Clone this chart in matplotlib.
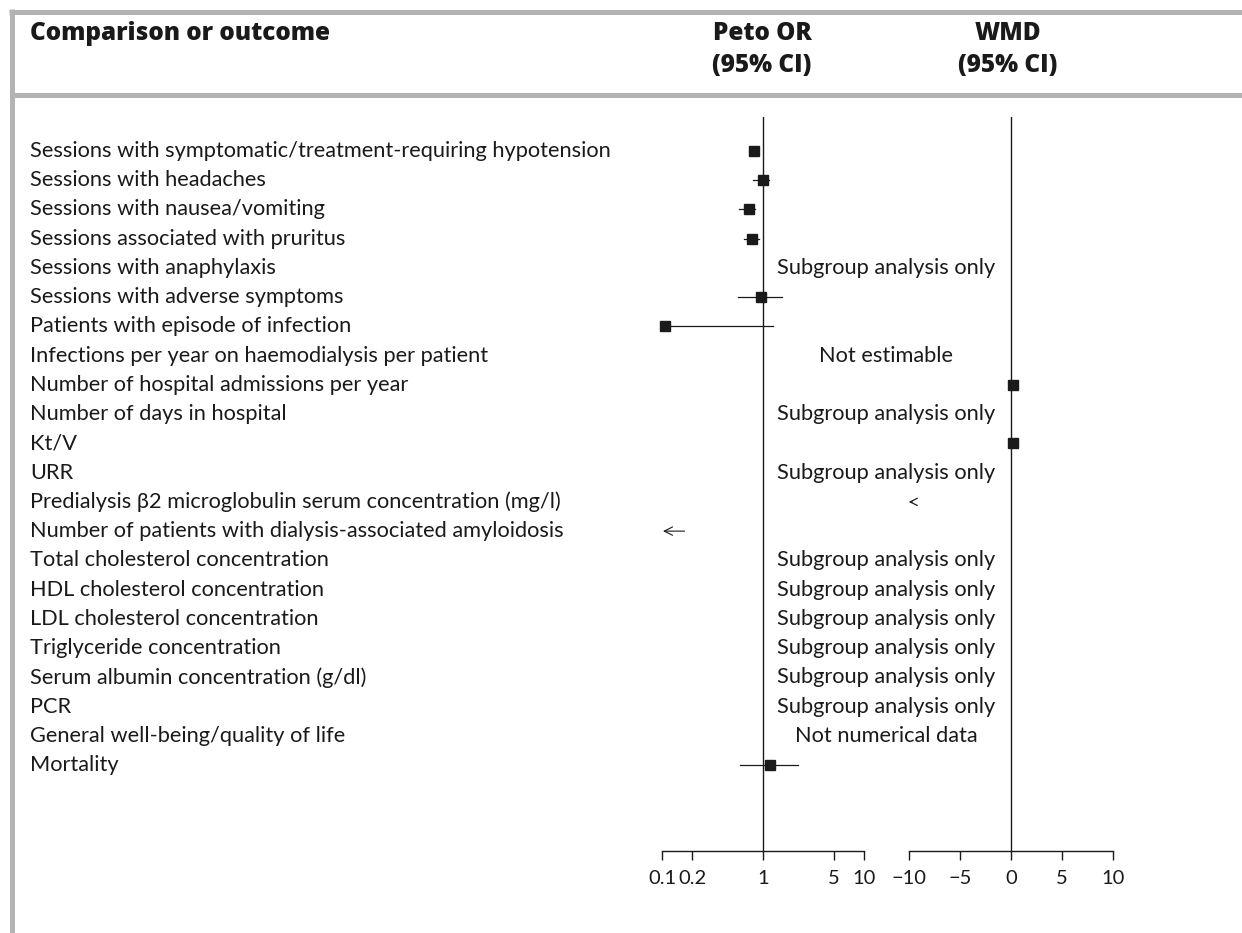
import numpy as np
import matplotlib
matplotlib.use("Agg")
import matplotlib.pyplot as plt
from matplotlib.lines import Line2D
from matplotlib.transforms import blended_transform_factory

plt.rcParams['font.family'] = ['Lato', 'DejaVu Sans']
plt.rcParams['axes.unicode_minus'] = True

labels = [
    "Sessions with symptomatic/treatment-requiring hypotension",
    "Sessions with headaches",
    "Sessions with nausea/vomiting",
    "Sessions associated with pruritus",
    "Sessions with anaphylaxis",
    "Sessions with adverse symptoms",
    "Patients with episode of infection",
    "Infections per year on haemodialysis per patient",
    "Number of hospital admissions per year",
    "Number of days in hospital",
    "Kt/V",
    "URR",
    "Predialysis β2 microglobulin serum concentration (mg/l)",
    "Number of patients with dialysis-associated amyloidosis",
    "Total cholesterol concentration",
    "HDL cholesterol concentration",
    "LDL cholesterol concentration",
    "Triglyceride concentration",
    "Serum albumin concentration (g/dl)",
    "PCR",
    "General well-being/quality of life",
    "Mortality",
]
nan = np.nan
or_est = [0.81, 1.00, 0.72, 0.78, nan, 0.96, 0.107, nan, nan, nan, nan, nan,
          nan, nan, nan, nan, nan, nan, nan, nan, nan, 1.18]
or_lo = [0.72, 0.80, 0.58, 0.65, nan, 0.57, 0.10, nan, nan, nan, nan, nan,
         nan, nan, nan, nan, nan, nan, nan, nan, nan, 0.59]
or_hi = [0.90, 1.14, 0.84, 0.91, nan, 1.53, 1.25, nan, nan, nan, nan, nan,
         nan, nan, nan, nan, nan, nan, nan, nan, nan, 2.22]
wmd_est = [nan, nan, nan, nan, nan, nan, nan, nan, 0.2, nan, 0.2, nan,
           nan, nan, nan, nan, nan, nan, nan, nan, nan, nan]
notes = ["", "", "", "", "Subgroup analysis only", "", "", "Not estimable",
         "", "Subgroup analysis only", "", "Subgroup analysis only", "", "",
         "Subgroup analysis only", "Subgroup analysis only", "Subgroup analysis only",
         "Subgroup analysis only", "Subgroup analysis only", "Subgroup analysis only",
         "Not numerical data", ""]
or_arrow_rows = [14]    # estimate off scale (left) on Peto OR panel
wmd_arrow_rows = [13]   # estimate off scale (left) on WMD panel

or_ticks = [0.1, 0.2, 1, 5, 10]
or_ticklabels = ["0.1", "0.2", "1", "5", "10"]
wmd_ticks = [-10, -5, 0, 5, 10]
wmd_ticklabels = ["\u221210", "\u22125", "0", "5", "10"]

W, H = 1242, 933
fig = plt.figure(figsize=(W / 100, H / 100), dpi=100)
TXT = "#1a1a1a"
GRAY = "#b3b3b3"
FS = 15.7
HFS = 17.5

def fx(px):
    return px / W

def fy(py):
    return 1 - py / H

top_px, bot_px = 117, 851
ax1 = fig.add_axes([fx(662), fy(bot_px), fx(864 - 662), (bot_px - top_px) / H])
ax2 = fig.add_axes([fx(909), fy(bot_px), fx(1113 - 909), (bot_px - top_px) / H])

n = len(labels)
rows = np.arange(1, n + 1)
ylim = (24.94, -0.163)

for ax in (ax1, ax2):
    ax.set_ylim(*ylim)
    ax.set_facecolor("none")
    for s in ("top", "left", "right"):
        ax.spines[s].set_visible(False)
    ax.spines["bottom"].set_linewidth(1.0)
    ax.spines["bottom"].set_color(TXT)
    ax.set_yticks([])
    ax.tick_params(axis="x", direction="out", length=6.5, width=1.0,
                   colors=TXT, labelsize=14.5, pad=7)

ax1.set_xscale("log")
ax1.set_xlim(0.1, 10)
ax1.set_xticks(or_ticks)
ax1.set_xticklabels(or_ticklabels)
ax1.xaxis.set_minor_locator(matplotlib.ticker.NullLocator())
ax2.set_xlim(-10, 10)
ax2.set_xticks(wmd_ticks)
ax2.set_xticklabels(wmd_ticklabels)

ax1.axvline(1, color=TXT, lw=1.0)
ax2.axvline(0, color=TXT, lw=1.0)

for r, e, lo, hi in zip(rows, or_est, or_lo, or_hi):
    if np.isnan(e):
        continue
    ax1.plot([lo, hi], [r, r], color=TXT, lw=0.9, clip_on=False)
    ax1.plot([e], [r], marker="s", ms=7, color=TXT, mec=TXT, clip_on=False)

for r, e in zip(rows, wmd_est):
    if np.isnan(e):
        continue
    ax2.plot([e], [r], marker="s", ms=7, color=TXT, mec=TXT, clip_on=False)

for r in or_arrow_rows:
    ax1.annotate("", xy=(0.096, r), xytext=(0.178, r),
                 arrowprops=dict(arrowstyle="->", color=TXT, lw=0.8,
                                 mutation_scale=15),
                 annotation_clip=False)
for r in wmd_arrow_rows:
    ax2.annotate("", xy=(-10.3, r), xytext=(-9.4, r),
                 arrowprops=dict(arrowstyle="->", color=TXT, lw=0.9,
                                 mutation_scale=13),
                 annotation_clip=False)

tr = blended_transform_factory(fig.transFigure, ax1.transData)
for r, lab, note in zip(rows, labels, notes):
    fig.text(fx(30), r, lab, transform=tr, ha="left", va="center",
             fontsize=FS, color=TXT)
    if note:
        fig.text(fx(886), r, note, transform=tr, ha="center", va="center",
                 fontsize=FS, color=TXT)

# Header
hkw = dict(fontsize=HFS, fontweight="heavy", color=TXT, va="center",
           family=["Open Sans", "DejaVu Sans"])
fig.text(fx(30), fy(33), "Comparison or outcome", ha="left", **hkw)
fig.text(fx(762), fy(33), "Peto OR", ha="center", **hkw)
fig.text(fx(762), fy(66), "(95% CI)", ha="center", **hkw)
fig.text(fx(1008), fy(33), "WMD", ha="center", **hkw)
fig.text(fx(1008), fy(66), "(95% CI)", ha="center", **hkw)

# Gray frame lines
lw = 3.6
fig.add_artist(Line2D([fx(9), 1], [fy(11.5), fy(11.5)], color=GRAY, lw=lw,
                      solid_capstyle="butt"))
fig.add_artist(Line2D([fx(12), fx(12)], [fy(9), 0], color=GRAY, lw=lw,
                      solid_capstyle="butt"))
fig.add_artist(Line2D([fx(14), 1], [fy(94.5), fy(94.5)], color=GRAY, lw=lw,
                      solid_capstyle="butt"))

fig.savefig("out.png", dpi=100)
